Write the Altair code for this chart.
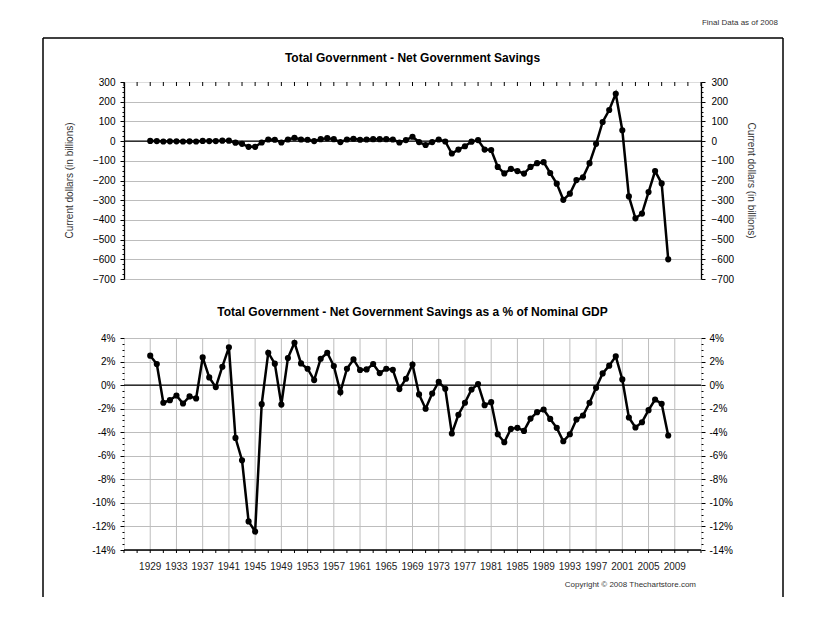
import altair as alt
import pandas as pd

years = list(range(1929, 2009))

savings = [1, 0, -2, -1, -1, -2, -1, -2, 1, 0, 0, 2,
           2, -8, -14, -29, -29, -7, 8, 7, -7, 8,
           17, 8, 7, 0, 10, 15, 10, -5, 8, 12,
           7, 8, 10, 10, 10, 8, -7, 5, 22, -5,
           -20, -5, 8, -2, -63, -43, -26, -3, 5, -43,
           -45, -131, -164, -141, -152, -165, -131, -112, -107, -162,
           -216, -298, -267, -198, -184, -112, -14, 97, 158, 240,
           55, -281, -392, -368, -259, -152, -215, -600]

pct = [2.50, 1.79, -1.50, -1.28, -0.88, -1.56, -0.96, -1.13, 2.35, 0.65, -0.17, 1.56,
       3.21, -4.48, -6.38, -11.57, -12.43, -1.62, 2.75, 1.82, -1.65, 2.30,
       3.60, 1.84, 1.39, 0.43, 2.24, 2.75, 1.62, -0.60, 1.39, 2.18,
       1.28, 1.33, 1.79, 1.02, 1.39, 1.30, -0.34, 0.54, 1.75, -0.79,
       -2.01, -0.71, 0.28, -0.31, -4.11, -2.52, -1.50, -0.37, 0.09, -1.70,
       -1.45, -4.17, -4.85, -3.72, -3.63, -3.89, -2.84, -2.30, -2.07, -2.87,
       -3.63, -4.77, -4.17, -2.92, -2.58, -1.50, -0.23, 0.99, 1.65, 2.44,
       0.48, -2.75, -3.60, -3.15, -2.13, -1.22, -1.59, -4.28]

grid_years = list(range(1929, 2010, 4))
minor_years = list(range(1925, 2014, 2))
top_ticks = list(range(-700, 301, 100))
top_minor = [v for v in range(-700, 301, 25) if v % 100 != 0]
pct_ticks = list(range(-14, 5, 2))
pct_minor = [v / 2 for v in range(-28, 9) if v % 4 != 0]

df_top = pd.DataFrame({"year": years, "val": savings})
df_bot = pd.DataFrame({"year": years, "val": pct})
df_minor_x = pd.DataFrame({"year": minor_years})
df_grid_x = pd.DataFrame({"year": grid_years, "label": [str(y) for y in grid_years]})
one = pd.DataFrame({"k": [0]})

FONT = "Liberation Sans"
GRID = "#bdbdbd"
LABEL = "#222222"
W = 577
H1 = 197
H2 = 212

xscale = alt.Scale(domain=[1925, 2013], nice=False, zero=False)
ys_top = alt.Scale(domain=[-700, 300], nice=False, zero=False)
ys_bot = alt.Scale(domain=[-14, 4], nice=False, zero=False)


def text_layer(txt, x, y, size=10, bold=False, align="center", angle=0, color="black"):
    return alt.Chart(one).mark_text(
        text=txt, align=align, baseline="middle", fontSize=size,
        fontWeight="bold" if bold else "normal", font=FONT, angle=angle, color=color
    ).encode(x=alt.value(x), y=alt.value(y))


def vrule(x, y1, y2):
    return alt.Chart(one).mark_rule(color="black", strokeWidth=1.5).encode(
        x=alt.value(x), y=alt.value(y1), y2=alt.value(y2))


def hrule(y, x1, x2, color="black", width=1.5):
    return alt.Chart(one).mark_rule(color=color, strokeWidth=width).encode(
        y=alt.value(y), x=alt.value(x1), x2=alt.value(x2))


def yaxis_layer(df, scale, **axis_kw):
    return alt.Chart(df).mark_circle(opacity=0).encode(
        x=alt.X("year:Q", scale=xscale, axis=None),
        y=alt.Y("val:Q", scale=scale, axis=alt.Axis(**axis_kw)),
    )


def series_layers(df, scale):
    line = alt.Chart(df).mark_line(color="black", strokeWidth=2.5).encode(
        x=alt.X("year:Q", scale=xscale, axis=None),
        y=alt.Y("val:Q", scale=scale, axis=None),
    )
    pts = alt.Chart(df).mark_circle(color="black", opacity=1, size=38).encode(
        x=alt.X("year:Q", scale=xscale, axis=None),
        y=alt.Y("val:Q", scale=scale, axis=None),
    )
    zero = alt.Chart(one).mark_rule(color="black", strokeWidth=1.3).encode(
        y=alt.YDatum(datum=0, type="quantitative", scale=scale, axis=None))
    return [zero, line, pts]


# ---------------- top panel ----------------
top_grid = alt.Chart(df_top).mark_circle(opacity=0).encode(
    x=alt.X("year:Q", scale=xscale, axis=alt.Axis(
        orient="top", values=grid_years, grid=True, gridColor=GRID, labels=False,
        ticks=False, domain=False, title=None)),
    y=alt.Y("val:Q", scale=ys_top, axis=alt.Axis(
        orient="left", values=top_ticks, format="d", grid=True, gridColor=GRID,
        gridOpacity={"condition": {"test": "datum.value == 300", "value": 0}, "value": 1},
        domainColor="black", domainWidth=1.3, tickColor="black", tickSize=4,
        labelPadding=5, title=None)),
)
top_right = yaxis_layer(df_top, ys_top, orient="right", values=top_ticks, format="d",
                        grid=False, domainColor="black", domainWidth=1.3,
                        tickColor="black", tickSize=4, labelPadding=6, title=None)
top_lminor = yaxis_layer(df_top, ys_top, orient="left", values=top_minor, labels=False,
                         grid=False, domain=False, tickColor="black", tickSize=2, title=None)
top_rminor = yaxis_layer(df_top, ys_top, orient="right", values=top_minor, labels=False,
                         grid=False, domain=False, tickColor="black", tickSize=2, title=None)
top_inner_ticks = alt.Chart(df_minor_x).mark_rule(color="black", strokeWidth=1).encode(
    x=alt.X("year:Q", scale=xscale, axis=None), y=alt.value(0), y2=alt.value(4))

top = alt.layer(
    top_grid, top_right, top_lminor, top_rminor, top_inner_ticks,
    *series_layers(df_top, ys_top),
    text_layer("Total Government - Net Government Savings", 288.5, -24, size=12, bold=True),
    text_layer("Final Data as of 2008", 654, -59, size=8, align="right", color="#333333"),
    text_layer("Current dollars (in billions)", -54, 98.5, size=10, angle=270, color="#333333"),
    text_layer("Current dollars (in billions)", 627, 98.5, size=10, angle=90, color="#333333"),
    vrule(-81, -44, 515), hrule(-44, -81, 659), vrule(659, -44, 515),
).resolve_scale(y="independent").properties(width=W, height=H1)

# ---------------- bottom panel ----------------
pct_label = "datum.value + '%'"
bot_grid = alt.Chart(df_bot).mark_circle(opacity=0).encode(
    x=alt.X("year:Q", scale=xscale, axis=None),
    y=alt.Y("val:Q", scale=ys_bot, axis=alt.Axis(
        orient="left", values=pct_ticks, labelExpr=pct_label, grid=True, gridColor=GRID,
        domain=False, tickColor="black", tickSize=4, labelPadding=5, title=None)),
)
bot_vgrid = alt.Chart(df_grid_x).mark_rule(color=GRID, strokeWidth=1).encode(
    x=alt.X("year:Q", scale=xscale, axis=None), y=alt.value(0), y2=alt.value(H2))
bot_xlabels = alt.Chart(df_grid_x).mark_text(
    font=FONT, fontSize=10, color=LABEL, baseline="middle", align="center"
).encode(x=alt.X("year:Q", scale=xscale, axis=None), y=alt.value(H2 + 17), text="label:N")
bot_right = yaxis_layer(df_bot, ys_bot, orient="right", values=pct_ticks, labelExpr=pct_label,
                        grid=False, domain=False, tickColor="black", tickSize=4,
                        labelPadding=4, title=None)
bot_lminor = yaxis_layer(df_bot, ys_bot, orient="left", values=pct_minor, labels=False,
                         grid=False, domain=False, tickColor="black", tickSize=2, title=None)
bot_rminor = yaxis_layer(df_bot, ys_bot, orient="right", values=pct_minor, labels=False,
                         grid=False, domain=False, tickColor="black", tickSize=2, title=None)
bot_minor_x = alt.Chart(df_minor_x).mark_rule(color="black", strokeWidth=1).encode(
    x=alt.X("year:Q", scale=xscale, axis=None), y=alt.value(H2), y2=alt.value(H2 + 3))

bottom = alt.layer(
    bot_grid, bot_vgrid, bot_right, bot_lminor, bot_rminor, bot_minor_x,
    hrule(H2, 0, W, width=1.3), bot_xlabels,
    *series_layers(df_bot, ys_bot),
    text_layer("Total Government - Net Government Savings as a % of Nominal GDP",
               288.5, -26, size=12, bold=True),
    text_layer("Copyright \u00a9 2008 Thechartstore.com", 572, 247, size=8, align="right",
               color="#333333"),
).resolve_scale(y="independent").properties(width=W, height=H2)

chart = alt.vconcat(top, bottom, spacing=59, bounds="flush").resolve_scale(
    x="independent", y="independent"
).resolve_axis(x="independent", y="independent").properties(
    padding={"left": 33, "top": 10, "right": 5, "bottom": 5}
).configure_view(stroke=None).configure_axis(
    labelFont=FONT, titleFont=FONT, labelFontSize=10, labelColor=LABEL
).configure(background="white")

chart.save("out.html", embed_options={"renderer": "svg", "actions": False})
